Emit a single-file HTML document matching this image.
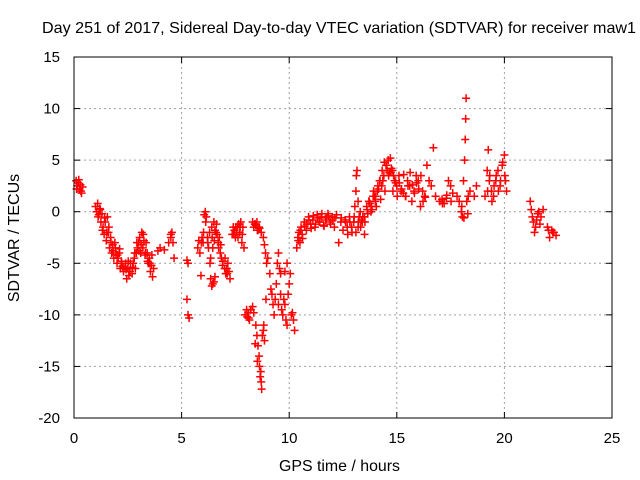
<!DOCTYPE html>
<html><head><meta charset="utf-8"><style>
body{margin:0;background:#fff;}
svg{display:block;font-family:"Liberation Sans",sans-serif;}
</style></head><body>
<svg id="chart" width="640" height="480">
<text x="42" y="33" font-size="16" textLength="594" lengthAdjust="spacingAndGlyphs">Day 251 of 2017, Sidereal Day-to-day VTEC variation (SDTVAR) for receiver maw1</text>
<text x="279" y="471" font-size="16" textLength="121" lengthAdjust="spacingAndGlyphs">GPS time / hours</text>
<text transform="translate(19,238) rotate(-90)" font-size="16" text-anchor="middle">SDTVAR / TECUs</text>
<g id="grid"></g>
<g id="ticks"></g>
<g id="points"></g>
<rect x="74" y="57" width="538" height="361" fill="none" stroke="#000" stroke-width="1"></rect>
</svg>
<script>
const xTicks=[0,5,10,15,20,25];
const yTicks=[-20,-15,-10,-5,0,5,10,15];
// each pair: [GPS time hours, SDTVAR TECU]
const segA=[[0.1,3],[0.12,2.2],[0.15,2.5],[0.2,2.8],[0.22,3.1],[0.25,2.2],[0.3,2.6],[0.32,2.0],[0.35,1.8],[0.4,2.4]];
const segB=[[1.0,0.5],[1.05,0],[1.1,0.8],[1.12,-0.5],[1.15,-0.3],[1.2,0.3],[1.22,0.2],[1.25,-1],[1.3,-0.2],[1.32,-1.8],[1.35,-1.5],[1.4,-2.2],[1.42,-0.6],[1.45,-1],[1.5,-2.8],[1.52,-2],[1.55,-0.5],[1.6,-2],[1.62,-1.5],[1.65,-3.5],[1.7,-2.5],[1.72,-3],[1.75,-4],[1.8,-3.2],[1.82,-3.8],[1.85,-4.5],[1.9,-3],[1.92,-3.5],[1.95,-4.2],[2.0,-5],[2.02,-4.2],[2.05,-4.5],[2.1,-4],[2.12,-3.6],[2.15,-5.5],[2.2,-4.8],[2.22,-5],[2.25,-5.3],[2.3,-5.8],[2.32,-5.4],[2.4,-5],[2.42,-5.6],[2.45,-6.5],[2.5,-5.5],[2.52,-4.8],[2.55,-6.2],[2.6,-5.8],[2.62,-5],[2.7,-6],[2.72,-5.4],[2.75,-5],[2.8,-4.5],[2.82,-4],[2.85,-5.5],[2.9,-4],[2.92,-3],[2.95,-3.5],[3.0,-3],[3.02,-3.8],[3.05,-2.5],[3.1,-4],[3.12,-3.2],[3.15,-2],[3.2,-3.5],[3.22,-2.2],[3.25,-2.8],[3.3,-4.2],[3.32,-4],[3.35,-3],[3.4,-4],[3.42,-4.8],[3.45,-5],[3.5,-4.5],[3.52,-5],[3.55,-5.8],[3.6,-5.2],[3.62,-4.2],[3.65,-6.3],[3.7,-5.5]];
const segC=[[3.9,-3.8],[4.0,-3.5],[4.2,-3.7],[4.4,-3],[4.5,-2.5],[4.5,-2.2],[4.55,-2],[4.6,-3],[4.65,-4.5]];
const segD=[[5.25,-8.5],[5.3,-10],[5.35,-10.3],[5.25,-4.7],[5.3,-5]];
const segE=[[5.75,-3.5],[5.8,-2.8],[5.85,-4],[5.9,-6.2],[5.92,-3],[5.95,-2.5],[6.0,-3],[6.02,-2],[6.05,-0.3],[6.1,0],[6.12,-1],[6.15,-0.5],[6.2,-2.5],[6.22,-3],[6.25,-3.5],[6.3,-2],[6.32,-5],[6.35,-6.5],[6.4,-7.2],[6.42,-2.5],[6.45,-7],[6.5,-6.8],[6.52,-2.8],[6.55,-6.3],[6.4,-1.5],[6.5,-1],[6.6,-2],[6.62,-1.2],[6.7,-3],[6.72,-3.5],[6.75,-2.5],[6.8,-4],[6.82,-3.2],[6.85,-4.5],[6.9,-5.2],[6.92,-4.8],[7.0,-5.5],[7.02,-4.5],[7.05,-6],[7.1,-5.5],[7.12,-6],[7.15,-5],[7.2,-5.8],[7.25,-6.5],[6.35,-4.5],[6.45,-3.5],[6.55,-1.8],[6.65,-2.2]];
const segF=[[7.35,-2.2],[7.4,-1.5],[7.42,-2.2],[7.45,-1.8],[7.5,-2.5],[7.52,-1.5],[7.55,-2],[7.6,-1.5],[7.62,-2.5],[7.65,-1.2],[7.7,-2],[7.72,-1.5],[7.75,-1],[7.8,-3],[7.82,-2.2],[7.85,-1.5],[7.9,-3.5],[8.3,-1],[8.35,-1.5],[8.4,-1.2],[8.42,-1.2],[8.45,-1.3],[8.5,-1],[8.52,-1.8],[8.55,-1.8],[8.6,-1.5],[8.62,-1.6],[8.7,-2],[8.8,-2.5],[8.85,-3.2],[8.9,-4],[8.95,-5],[9.0,-4.5]];
const segG=[[7.95,-10],[8.02,-9.5],[8.05,-10.2],[8.1,-9.8],[8.12,-10.3],[8.15,-10.5],[8.2,-9.5],[8.22,-9.5],[8.3,-9.2],[8.35,-9.8]];
const segH=[[8.42,-12.8],[8.45,-11],[8.5,-12],[8.52,-14.5],[8.55,-13],[8.6,-14],[8.62,-15],[8.65,-16],[8.68,-15.5],[8.7,-16.5],[8.72,-17.2],[8.75,-12],[8.8,-11.5],[8.82,-11],[8.85,-12.5],[8.92,-8.5]];
const segI=[[9.1,-6],[9.15,-7.5],[9.2,-8],[9.25,-9],[9.3,-10],[9.35,-8.5],[9.4,-7],[9.45,-5],[9.5,-4],[9.55,-5.5],[9.6,-6],[9.65,-9.5],[9.7,-10],[9.75,-8.5],[9.8,-9],[9.85,-10.5],[9.9,-11],[9.95,-8],[10.0,-7],[10.05,-6],[10.1,-10],[10.15,-9.8],[10.2,-10.5],[10.25,-11.5],[9.5,-9],[9.6,-8],[9.8,-5.8],[9.9,-5]];
const segJ=[[10.35,-3.5],[10.4,-2.5],[10.42,-2.8],[10.45,-2],[10.5,-3],[10.52,-1.8],[10.55,-1.5],[10.6,-2.2],[10.62,-2.6],[10.7,-1],[10.72,-1.4],[10.8,-1.8],[10.82,-1.2],[10.9,-0.5],[10.92,-0.8],[11.0,-1.2],[11.02,-1.6],[11.1,-0.8],[11.12,-0.4],[11.2,-1.5],[11.22,-1.2],[11.3,-0.3],[11.32,-0.6],[11.4,-1],[11.42,-1],[11.5,-0.5],[11.52,-0.2],[11.6,-1.3],[11.62,-1.4],[11.7,-0.8],[11.72,-0.6],[11.8,-0.2],[11.82,-0.4],[11.9,-1],[11.92,-1.2],[12.0,-0.5],[12.02,-0.8],[12.1,-1.5],[12.12,-0.6],[12.2,-0.3],[12.3,-3],[12.4,-1],[12.42,-0.6],[12.5,-1.8],[12.6,-0.8],[12.62,-1.0],[12.7,-1.5],[12.72,-2.2],[12.8,-0.5],[12.82,-1.0]];
const segK=[[12.9,-1.5],[12.92,-2.0],[13.0,-1],[13.02,-0.5],[13.05,0.5],[13.1,2],[13.1,-2],[13.12,3.5],[13.15,4],[13.2,1],[13.2,-1.5],[13.22,-1.0],[13.25,-0.5],[13.3,0],[13.32,-1.5],[13.35,-0.8],[13.4,-1],[13.42,-0.5],[13.5,-0.5],[13.5,-2.2],[13.52,-1.0],[13.6,0.5],[13.62,0.2],[13.65,-0.2],[13.7,1],[13.72,1.0],[13.75,0.8],[13.8,0],[13.82,0.5],[13.85,0.2],[13.9,1.5],[13.92,2.0],[13.95,1.5],[14.0,1],[14.02,1.5],[14.05,0.5],[14.1,2],[14.12,2.5],[14.15,2.2],[14.2,3],[14.22,3.0],[14.25,1.2],[14.3,2.5],[14.32,4.0],[14.35,3],[14.4,3.5],[14.42,4.8],[14.45,2],[14.5,4.5],[14.52,4.5],[14.55,4],[14.6,5],[14.62,3.5],[14.65,3.8],[14.7,5.2],[14.72,3.8],[14.75,4.2],[14.8,4],[14.82,2.0],[14.85,3.5],[14.9,3],[14.92,3.0],[14.95,2.8],[15.0,2.5],[15.02,1.5],[15.1,3.5],[15.12,2.8],[15.2,2],[15.22,2.2],[15.3,1.8],[15.32,3.6],[15.4,1.5],[15.42,1.5],[15.5,3],[15.52,2.5],[15.6,2.5],[15.62,3.8],[15.7,1],[15.72,2.6],[15.8,2],[15.82,1.8],[15.9,3.5],[15.92,2.8],[16.0,3],[16.02,2.2],[16.1,0.5],[16.12,3.5],[16.2,2],[16.22,1.0],[16.3,1.5],[16.32,1.4],[16.4,4.5],[16.5,3],[16.6,2.5],[16.7,6.2],[16.8,1.5]];
const segL=[[17.0,1],[17.1,1.2],[17.12,0.8],[17.2,0.8],[17.3,1.3],[17.32,1.6],[17.4,3],[17.5,2.5],[17.52,1.0],[17.6,1.8],[17.8,1.5],[17.9,1],[18.0,0],[18.02,0.5],[18.05,-0.5],[18.1,3],[18.12,-0.6],[18.15,5],[18.18,7],[18.2,9],[18.22,11],[18.25,1],[18.3,-0.2],[18.32,1.5],[18.4,2],[18.6,1.5],[18.7,2.5]];
const segM=[[19.1,1.5],[19.2,4],[19.22,2.0],[19.25,6],[19.3,3],[19.32,3.5],[19.4,2],[19.42,1.0],[19.5,1.5],[19.52,2.5],[19.6,3],[19.62,3.5],[19.7,4],[19.72,2.0],[19.8,2.5],[19.82,3.0],[19.9,4.5],[19.92,4.8],[20.0,5.5],[20.02,3.5],[20.05,3],[20.1,2]];
const segN=[[21.2,1],[21.25,0.2],[21.3,-0.5],[21.35,-1],[21.4,-2],[21.45,-1.5],[21.5,-0.8],[21.55,-0.2],[21.6,0],[21.65,-1.2],[21.7,-0.5],[21.8,0.2],[22.0,-1.5],[22.05,-1.8],[22.1,-2.5],[22.2,-1.8],[22.25,-2.0],[22.3,-2],[22.4,-2.3]];
const segments=[segA,segB,segC,segD,segE,segF,segG,segH,segI,segJ,segK,segL,segM,segN];
const X0=74,X1=612,Y0=418,Y1=57;
function xs(t){return X0+(t-0)/(25-0)*(X1-X0);}
function ys(v){return Y0-(v-(-20))/(15-(-20))*(Y0-Y1);}
const NS='http://www.w3.org/2000/svg';
const grid=document.getElementById('grid'),ticks=document.getElementById('ticks'),pts=document.getElementById('points');
function mk(tag,attrs,parent){const e=document.createElementNS(NS,tag);for(const k in attrs)e.setAttribute(k,attrs[k]);parent.appendChild(e);return e;}
xTicks.forEach(t=>{const x=xs(t);
 if(t>0&&t<25){const g=mk('line',{x1:x,x2:x,y1:Y1,y2:Y0,stroke:'#a0a0a0','stroke-dasharray':'2,3'},grid);
 
 }
 mk('line',{x1:x,x2:x,y1:Y0,y2:Y0-6,stroke:'#000'},ticks);mk('line',{x1:x,x2:x,y1:Y1,y2:Y1+6,stroke:'#000'},ticks);
 const l=mk('text',{x:x,y:443,'font-size':15,'text-anchor':'middle'},ticks);l.textContent=t;
 
 });
yTicks.forEach(v=>{const y=ys(v);
 if(v>-20&&v<15){const g=mk('line',{x1:X0,x2:X1,y1:y,y2:y,stroke:'#a0a0a0','stroke-dasharray':'2,3'},grid);
 
 }
 mk('line',{x1:X0,x2:X0+6,y1:y,y2:y,stroke:'#000'},ticks);mk('line',{x1:X1,x2:X1-6,y1:y,y2:y,stroke:'#000'},ticks);
 const l=mk('text',{x:X0-14,y:y+5,'font-size':15,'text-anchor':'end'},ticks);l.textContent=v;
 
 });
segments.forEach(seg=>seg.forEach(([t,v])=>{const x=xs(t),y=ys(v);
 const p=mk('path',{d:`M${x-4},${y}h8M${x},${y-4}v8`,stroke:'#ff0000','stroke-width':1.5,fill:'none'},pts);
 
 }));
</script>
</body></html>
